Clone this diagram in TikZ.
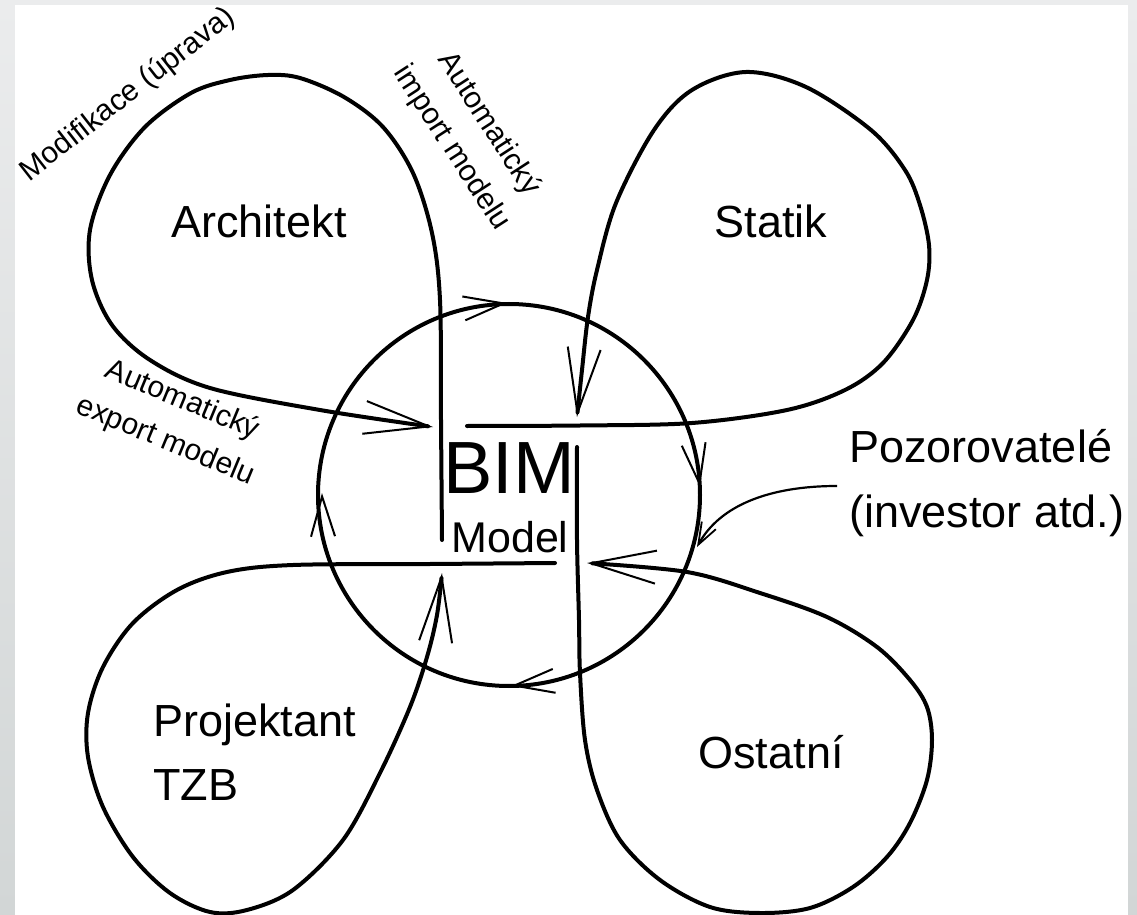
\documentclass[tikz,border=0pt]{standalone}
\usepackage{fontspec}
\setmainfont{Liberation Sans}
\usetikzlibrary{arrows.meta}
\definecolor{framegray}{HTML}{EBECED}
\definecolor{framegraydark}{HTML}{D2D6D6}
\begin{document}
\begin{tikzpicture}[x=0.5pt,y=-0.5pt,
  curveline/.style={line width=2pt, line join=round, line cap=round},
  bigbarb/.style={-{Straight Barb[length=32.5pt,width=16.5pt,line width=1pt]}},
  circbarb/.style={-{Straight Barb[length=20pt,width=12pt,line width=1pt]}},
  smallbarb/.style={-{Straight Barb[length=11pt,width=8pt,line width=0.9pt]}},
  lab/.style={inner sep=0pt, font=\fontsize{22.5}{27}\selectfont},
  smalllab/.style={inner sep=0pt, align=center, font=\fontsize{15}{22}\selectfont}]
\useasboundingbox (0,0) rectangle (1137,915);
% frame
\shade[top color=framegray, bottom color=framegraydark] (0,0) rectangle (1137,915);
\fill[white] (15,5) rectangle (1128,915);

% central circle
\coordinate (c) at (509,495);
\draw[curveline] (c) circle[radius=191];
\draw[circbarb] (503,303.5) -- (507,303);
\draw[circbarb] (699.5,483.6) -- (700,487);
\draw[circbarb] (515.2,685.5) -- (511,686);
\draw[circbarb] (322.1,497.3) -- (322,493);

% Architekt loop
\draw[curveline, bigbarb] plot[smooth, tension=0.55] coordinates {(442,540) (441,420) (440,300) (432,233) (413,173) (383,127) (344,97) (300,78) (268,75) (230,80) (191,93) (145,127) (110,175) (90,230) (92,280) (112,325) (150,360) (210,388) (320,410) (433,427)};

% Statik loop
\draw[curveline, bigbarb] plot[smooth, tension=0.55] coordinates {(467,426) (580,425.5) (692,423) (787,410) (845,390) (883,363) (913,320) (927,280) (929,245) (920,205) (905,170) (871,130) (806,87) (746,72) (692,90) (654,130) (616,203) (597,270) (588,317) (582,370) (577,417)};

% Ostatni loop
\draw[curveline, bigbarb] plot[smooth, tension=0.55] coordinates {(577,447) (577,540) (579,620) (580,673) (585,740) (597,790) (620,840) (660,880) (710,907) (760,913) (810,908) (853,887) (887,857) (910,823) (927,780) (932,740) (927,707) (910,680) (877,647) (827,617) (760,593) (687,572) (587,563)};

% Projektant loop
\draw[curveline, bigbarb] plot[smooth, tension=0.55] coordinates {(555,563) (430,564) (293,565) (227,572) (177,590) (133,623) (103,667) (88,713) (88,757) (103,807) (133,857) (170,893) (210,912) (247,910) (293,890) (343,840) (380,773) (410,707) (427,657) (437,615) (442,573)};

% labels
\node[lab, anchor=base] (arch) at (259,238) {Architekt};
\node[lab, anchor=base] (stat) at (771,238) {Statik};
\node[lab, anchor=base west] (proj1) at (153,736) {Projektant};
\node[lab, anchor=base west] (proj2) at (153,800) {TZB};
\node[lab, anchor=base] (ost) at (771,768) {Ostatní};
\node[lab, anchor=base west] (poz1) at (849,462) {Pozorovatelé};
\node[lab, anchor=base west] (poz2) at (849,527) {(investor atd.)};
\node[inner sep=0pt, anchor=base, font=\fontsize{37}{40}\selectfont] (bim) at (509,493) {BIM};
\node[inner sep=0pt, anchor=base, font=\fontsize{21.5}{24}\selectfont] (model) at (510,552) {Model};

\node[smalllab, rotate=38] (modif) at (128,95) {Modifikace (úprava)};
\node[smalllab, rotate=-57] (import) at (470,136) {Automatický\\import modelu};
\node[smalllab, rotate=-22.5] (export) at (174,421) {Automatický\\export modelu};

% observers arrow
\coordinate (pozstart) at (837,486);
\draw[line width=1.1pt, smallbarb] (pozstart) .. controls (770,486) and (720,505) .. (697,547);
\end{tikzpicture}
\end{document}
